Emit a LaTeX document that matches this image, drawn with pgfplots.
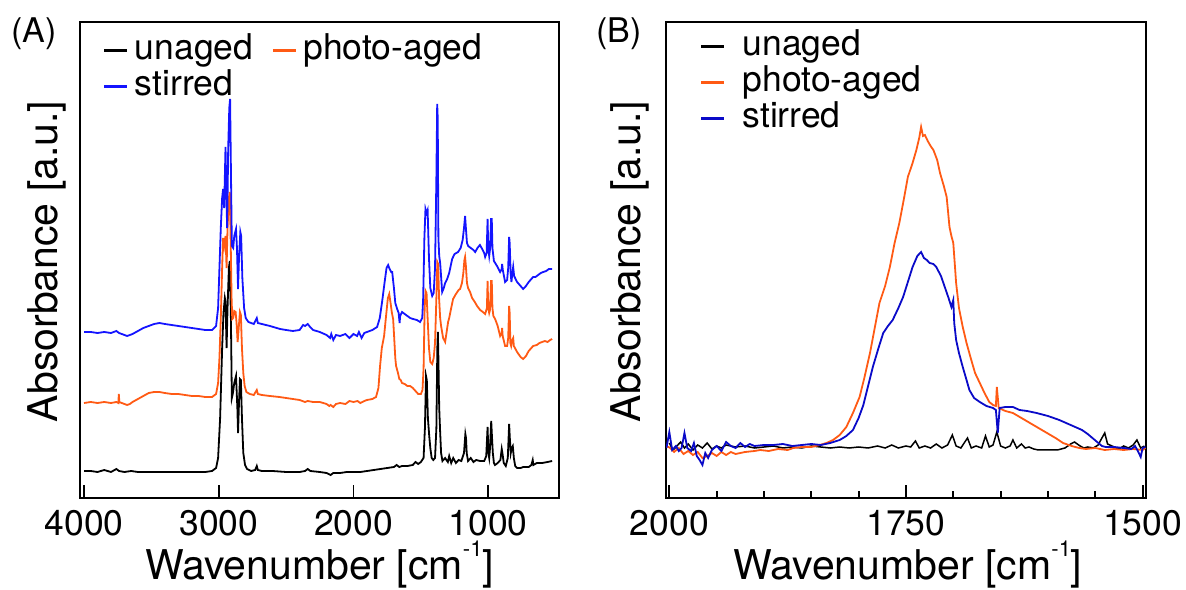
\documentclass[border=0pt]{standalone}
\usepackage{fontspec}
\setmainfont{TeX Gyre Heros}
\usepackage{pgfplots}
\usepackage{pgfplotstable}
\pgfplotsset{compat=1.18}

\definecolor{myorange}{RGB}{255,90,20}
\definecolor{myblueA}{RGB}{20,20,255}
\definecolor{myblueB}{RGB}{10,10,200}

\newcommand{\tickfont}{\fontsize{35.5bp}{40bp}\selectfont}
\newcommand{\labfont}{\fontsize{41bp}{46bp}\selectfont}
\newcommand{\supm}{\raisebox{0.56em}{\fontsize{22bp}{22bp}\selectfont -1}}

% ---------- Panel A data: wavenumber, height ----------
\pgfplotstableread{
w h
4000 27
3950 27
3900 26
3850 28
3800 26
3760 29
3740 27
3700 26
3650 27
3600 26
3500 26
3400 26
3300 26
3200 26
3100 26
3050 27
3020 30
3005 40
2990 80
2975 150
2965 185
2955 200
2950 196
2942 150
2935 190
2925 230
2918 237
2910 180
2903 100
2895 105
2885 115
2872 122
2862 90
2857 65
2850 95
2843 119
2836 118
2828 80
2818 45
2805 33
2790 29
2760 27
2730 28
2718 32
2710 28
2680 27
2600 27
2500 26
2400 26
2360 27
2340 29
2320 27
2250 26
2200 25
2170 23
2150 25
2100 25
2050 26
2000 26
1950 26
1900 27
1850 28
1800 29
1750 30
1700 31
1680 33
1660 31
1640 32
1600 32
1560 33
1540 36
1520 34
1500 36
1480 40
1470 70
1462 122
1456 118
1448 80
1438 62
1430 50
1420 40
1408 38
1395 40
1385 70
1378 150
1374 166
1370 140
1364 90
1357 66
1350 45
1340 37
1320 40
1300 36
1290 42
1275 35
1260 40
1240 35
1220 38
1200 37
1180 45
1170 64
1165 60
1160 45
1150 37
1130 40
1110 36
1090 38
1060 37
1030 37
1015 42
1005 71
999 45
993 40
987 50
978 77
972 60
966 45
958 35
950 33
930 35
910 38
900 49
895 45
885 35
870 32
855 40
845 74
840 60
833 45
826 50
818 52
810 40
800 32
786 30
760 30
740 31
700 31
680 33
670 38
665 33
640 35
600 35
560 36
526 37
}\blackA

\pgfplotstableread{
w h
4000 95
3950 96
3900 95
3850 96
3800 95
3760 96
3745 95
3742 104
3738 96
3720 95
3700 94
3680 93
3660 94
3640 96
3600 99
3560 102
3520 105
3480 106
3440 106
3400 105
3350 104
3300 104
3250 103
3200 102
3150 102
3100 101
3050 101
3020 104
3005 115
2995 140
2985 180
2975 230
2968 260
2960 252
2950 262
2942 230
2935 270
2925 300
2918 306
2912 260
2905 200
2900 179
2893 180
2885 187
2875 186
2868 175
2860 156
2852 170
2843 186
2836 183
2828 150
2818 125
2808 112
2795 106
2770 104
2740 103
2718 108
2710 104
2680 103
2620 102
2550 101
2500 100
2450 99
2400 98
2360 96
2340 97
2300 96
2250 96
2200 94
2180 92
2170 93
2150 91
2130 94
2100 95
2060 94
2030 97
2000 96
1970 97
1950 95
1920 97
1900 98
1860 99
1833 101
1815 110
1803 132
1790 150
1773 162
1760 180
1745 200
1735 204
1725 195
1715 185
1706 179
1698 160
1690 140
1684 132
1670 125
1660 119
1650 118
1640 115
1620 114
1600 112
1580 112
1560 110
1540 107
1520 104
1500 104
1488 108
1480 130
1472 190
1465 207
1458 205
1450 180
1440 150
1430 136
1416 134
1405 140
1395 155
1385 200
1378 236
1372 234
1365 200
1357 180
1350 172
1335 160
1320 156
1310 165
1298 176
1290 180
1275 190
1261 199
1240 204
1220 208
1209 209
1195 215
1185 225
1177 238
1172 241
1166 232
1158 215
1150 210
1135 206
1120 200
1100 196
1083 192
1060 188
1040 186
1023 184
1010 190
1005 217
1000 190
993 185
987 188
979 217
974 217
969 190
962 182
949 179
930 172
912 162
900 165
897 170
893 162
875 152
860 152
852 160
845 192
841 185
836 155
830 152
822 158
815 160
810 152
786 146
760 141
741 139
720 142
700 147
680 150
667 152
640 153
620 155
600 156
580 157
560 156
540 158
526 159
}\orangeA

\pgfplotstableread{
w h
4000 166
3950 166
3900 165
3850 166
3800 165
3760 167
3740 165
3700 163
3680 162
3660 163
3640 164
3600 167
3560 170
3520 172
3480 174
3440 175
3400 174
3350 173
3300 172
3250 171
3200 170
3150 169
3100 168
3050 168
3020 172
3005 190
2995 230
2985 270
2975 300
2968 309
2960 290
2950 351
2943 300
2938 270
2930 350
2922 390
2916 399
2910 330
2903 252
2893 250
2885 262
2872 269
2865 250
2857 209
2850 240
2840 266
2834 262
2825 220
2812 190
2800 180
2780 176
2760 175
2740 174
2718 180
2710 175
2680 174
2620 172
2545 169
2500 168
2450 167
2400 168
2374 173
2360 172
2340 174
2322 171
2300 168
2250 166
2200 163
2174 160
2165 164
2150 158
2130 163
2100 162
2060 164
2030 160
2000 164
1973 162
1960 166
1940 160
1920 165
1900 166
1860 168
1825 171
1805 180
1788 196
1770 215
1755 230
1743 233
1735 230
1720 226
1713 226
1700 210
1690 195
1676 189
1665 185
1658 175
1654 182
1640 186
1620 184
1600 182
1580 180
1558 179
1530 178
1506 176
1490 180
1483 200
1474 260
1466 289
1458 285
1450 288
1440 240
1430 210
1416 202
1405 205
1395 230
1385 320
1379 394
1375 380
1370 260
1364 242
1357 235
1342 206
1330 210
1320 215
1305 219
1290 225
1268 239
1250 244
1224 246
1205 250
1190 258
1180 270
1172 282
1166 270
1158 255
1149 252
1130 250
1110 248
1097 246
1080 250
1062 253
1045 249
1030 245
1023 241
1012 245
1005 279
1000 250
993 242
986 250
979 279
974 279
969 250
958 237
935 232
912 226
900 229
897 234
892 228
875 216
860 218
852 230
845 261
841 255
834 225
828 216
820 226
815 231
808 222
786 216
760 212
741 209
720 212
700 216
680 219
667 221
650 221
630 223
610 225
592 226
570 227
550 229
526 229
}\blueA

% ---------- Panel B data ----------
\pgfplotstableread{
w h
2000 55
1996 48
1992 52
1988 56
1984 50
1980 54
1975 48
1970 53
1965 50
1960 55
1955 49
1950 52
1945 50
1940 53
1930 51
1920 52
1910 50
1900 51
1890 52
1880 50
1870 51
1860 50
1850 52
1840 51
1830 50
1820 51
1810 50
1800 51
1790 50
1780 52
1772 50
1765 53
1758 50
1750 52
1745 51
1740 57
1736 50
1730 52
1724 50
1718 54
1712 50
1706 53
1701 63
1697 52
1692 50
1685 60
1681 50
1676 52
1670 50
1666 62
1662 51
1658 53
1654 66
1650 52
1645 50
1640 52
1637 58
1633 50
1628 54
1624 50
1620 51
1615 49
1610 48
1600 48
1590 48
1582 50
1576 54
1572 56
1566 52
1562 50
1558 51
1552 50
1547 53
1543 60
1540 65
1537 54
1530 51
1525 49
1520 52
1515 50
1510 53
1506 58
1502 50
1498 52
}\blackB

\pgfplotstableread{
w h
2003 52
1999 50
1995 46
1990 50
1985 44
1980 47
1975 43
1970 46
1965 40
1960 42
1955 45
1950 42
1945 46
1940 43
1935 46
1930 44
1920 46
1910 47
1904 48
1895 47
1885 49
1875 48
1869 50
1860 51
1850 51
1841 53
1834 55
1827 58
1820 63
1813 71
1806 85
1799 101
1794 120
1788 145
1783 170
1778 195
1772 212
1767 231
1762 255
1757 275
1752 300
1748 321
1743 335
1739 348
1736 360
1734 371
1732 362
1730 363
1727 357
1724 352
1721 348
1717 338
1714 325
1710 312
1707 301
1704 271
1702 262
1700 255
1697 215
1694 190
1690 171
1686 155
1681 138
1677 125
1672 115
1667 105
1662 96
1658 93
1655 92
1654 111
1652 90
1645 87
1637 85
1628 80
1619 75
1610 70
1601 65
1592 60
1584 55
1575 52
1567 50
1560 49
1550 50
1540 48
1530 49
1520 48
1510 49
1500 48
1497 50
}\orangeB

\pgfplotstableread{
w h
2003 50
2000 66
1997 48
1993 52
1990 47
1987 50
1984 65
1981 50
1977 47
1974 55
1971 42
1968 38
1965 33
1962 45
1959 40
1955 48
1950 52
1945 47
1940 56
1935 52
1930 50
1925 55
1920 51
1915 54
1910 52
1900 53
1890 53
1880 54
1870 52
1860 53
1850 54
1840 53
1830 55
1820 58
1813 62
1806 68
1800 80
1795 93
1790 112
1785 131
1779 150
1774 165
1769 172
1764 178
1758 190
1753 201
1748 216
1743 231
1738 242
1734 246
1731 240
1728 238
1725 235
1721 234
1718 231
1713 222
1709 211
1705 200
1702 191
1700 198
1699 175
1697 158
1694 145
1690 131
1686 118
1683 108
1678 100
1672 96
1665 92
1658 90
1655 88
1653 65
1651 90
1645 91
1637 91
1630 88
1622 87
1612 85
1600 82
1588 78
1576 73
1564 68
1558 64
1553 60
1548 56
1543 52
1539 51
1530 51
1520 50
1512 49
1508 52
1505 47
1502 41
1500 50
1497 51
}\blueB

\pgfplotsset{
  ftir/.style={
    scale only axis,
    height=476bp,
    ymin=0, ymax=476,
    ytick=\empty,
    x dir=reverse,
    axis line style={line width=1.8bp},
    every tick/.style={line width=1.8bp, black},
    major tick length=13bp,
    minor tick length=7bp,
    xtick pos=lower,
    tick align=inside,
    xticklabel style={font=\tickfont, inner sep=0pt, anchor=north, yshift=-12bp},
    /pgf/number format/1000 sep={},
    /pgf/number format/assume math mode=true,
    xlabel style={font=\labfont, anchor=base, at={(axis description cs:0.5,-0.172)}},
    ylabel style={font=\labfont, anchor=base, rotate=0},
    legend image code/.code={\draw[##1, line width=3bp] (0bp,0bp) -- (23bp,0bp);},
    legend cell align=left,
  },
}

\begin{document}
\begin{tikzpicture}
\useasboundingbox (0,0) rectangle (1186bp,590bp);

% ---------------- Panel A ----------------
\begin{axis}[ftir,
  at={(80bp,92bp)}, anchor=south west,
  width=479bp,
  xmin=475, xmax=4030,
  xtick={1000,2000,3000,4000},
  xlabel={Wavenumber [cm\supm]},
  ylabel={Absorbance [a.u.]},
  ylabel style={at={(axis description cs:-0.048,0.497)}},
  legend columns=2,
  legend style={at={(axis description cs:0.048,0.976)}, anchor=north west,
    draw=none, fill=none, inner sep=0pt, outer sep=0pt, row sep=2bp,
    nodes={inner sep=0pt, text height=26bp, text depth=8bp, font=\tickfont},
    /tikz/every odd column/.append style={column sep=6bp},
    /tikz/every even column/.append style={column sep=18bp}},
]
\addplot[black, line width=1.8bp] table[x=w,y=h] {\blackA};
\addlegendentry{unaged}
\addplot[myorange, line width=1.8bp] table[x=w,y=h] {\orangeA};
\addlegendentry{photo-aged}
\addplot[myblueA, line width=1.8bp] table[x=w,y=h] {\blueA};
\addlegendentry{stirred}
\end{axis}

% ---------------- Panel B ----------------
\begin{axis}[ftir,
  at={(666bp,92bp)}, anchor=south west,
  width=480bp,
  xmin=1496.4, xmax=2003.5,
  xtick={1500,1750,2000},
  minor xtick={1550,1600,1650,1700,1800,1850,1900,1950},
  xlabel={Wavenumber [cm\supm]},
  xlabel style={at={(axis description cs:0.504,-0.172)}},
  ylabel={Absorbance [a.u.]},
  ylabel style={at={(axis description cs:-0.054,0.497)}},
  legend columns=1,
  legend style={at={(axis description cs:0.07,0.985)}, anchor=north west,
    draw=none, fill=none, inner sep=0pt, outer sep=0pt, row sep=2bp,
    nodes={inner sep=0pt, text height=26bp, text depth=8bp, font=\tickfont},
    /tikz/every odd column/.append style={column sep=17bp}},
]
\addplot[black, line width=1.5bp] table[x=w,y=h] {\blackB};
\addlegendentry{unaged}
\addplot[myorange, line width=1.8bp] table[x=w,y=h] {\orangeB};
\addlegendentry{photo-aged}
\addplot[myblueB, line width=1.8bp] table[x=w,y=h] {\blueB};
\addlegendentry{stirred}
\end{axis}

% panel letters
\node[font=\fontsize{34bp}{40bp}\selectfont, anchor=base west, inner sep=0pt] at (11bp,547bp) {(A)};
\node[font=\fontsize{34bp}{40bp}\selectfont, anchor=base west, inner sep=0pt] at (596bp,547bp) {(B)};
\end{tikzpicture}
\end{document}
